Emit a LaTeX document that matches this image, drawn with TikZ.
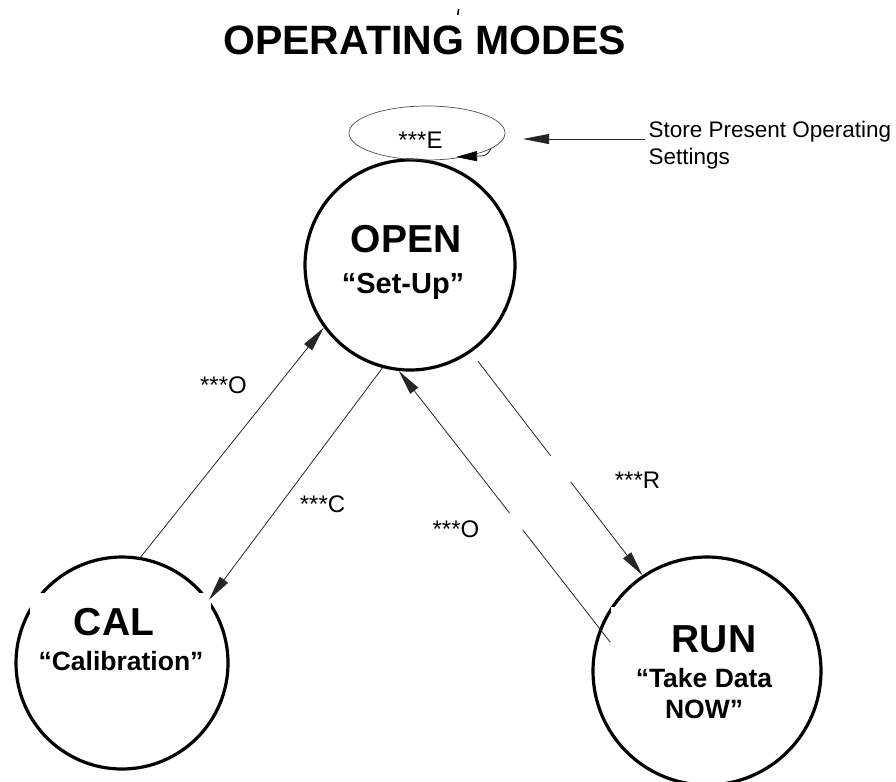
\documentclass[tikz,border=0pt]{standalone}
\usepackage{fontspec}
\setmainfont{Liberation Sans}
\usetikzlibrary{arrows.meta,calc,shapes.geometric}

\begin{document}
\begin{tikzpicture}[x=1pt,y=-1pt,
  state/.style={circle, draw=black, line width=3.2pt, inner sep=0pt},
  mask/.style={fill=white, inner sep=0pt, anchor=north west},
  conn/.style={draw=black!85, line width=0.8pt, -{Triangle[length=25pt,width=10pt]}},
  gap/.style={draw=white, line width=3.5pt},
  big/.style={font=\bfseries\fontsize{39}{40}\selectfont, anchor=base},
  sub/.style={font=\bfseries\fontsize{27}{30}\selectfont, anchor=base},
  lbl/.style={font=\fontsize{24}{26}\selectfont, anchor=base},
  note/.style={font=\fontsize{22.5}{26}\selectfont, anchor=base west}
]
\useasboundingbox (0,0) rectangle (896,781);

% title
\node[font=\bfseries\fontsize{41}{44}\selectfont, anchor=base] (title) at (424.5,55) {OPERATING MODES};
\draw[line width=1.6pt] (458.6,9) -- (457.8,15);

% mode circles
\node[state, minimum size=210pt] (open) at (410,265) {};
\node[state, minimum size=212pt] (cal)  at (122,663) {};
\node[state, minimum size=228pt] (run)  at (707,671) {};

% white text boxes over the circle outlines
\node[mask, minimum width=181pt, minimum height=95pt] (calbox) at (30,593) {};
\node[mask, minimum width=180pt, minimum height=120pt] (runbox) at (611,607) {};

% circle labels
\node[big] (opent) at (406,252) {OPEN};
\node[sub, font=\bfseries\fontsize{29}{32}\selectfont] (opens) at (403,293) {“Set-Up”};
\node[big] (calt) at (114,635) {CAL};
\node[sub, font=\bfseries\fontsize{26.5}{30}\selectfont] (cals) at (121,670) {“Calibration”};
\node[big] (runt) at (714,652) {RUN};
\node[sub, font=\bfseries\fontsize{26.5}{30}\selectfont] (runs1) at (704,687) {“Take Data};
\node[sub, font=\bfseries\fontsize{26.5}{30}\selectfont] (runs2) at (704,718) {NOW”};

% store settings ellipse with its return arrow
\node[ellipse, draw=black!70, line width=0.7pt, minimum width=156pt, minimum height=54pt, inner sep=0pt] (store) at (427,133) {};
\node[lbl] (storet) at (420.5,148) {***E};
\coordinate (ebend) at (481,156);
\coordinate (etip) at (456,157);
\draw[draw=black, line width=0.7pt, -{Triangle[length=21pt,width=10pt]}] (store.-14) to[out=-115, in=0] (ebend) -- (etip);

% note on the right
\node[note] (note1) at (645,137) {Store Present Operating};
\node[note] (note2) at (645,164) {Settings};
\coordinate (ntip) at (523,139);
\draw[conn, -{Triangle[length=26pt,width=10pt]}] ($(note1.base west)+(0,2)$) -- (ntip);

% transitions
\draw[conn] (cal.80.5) -- (open.216);
\draw[conn] (open.255) -- (cal.36.5);
\draw[conn] ($(run.center)+(163.4:101pt)$) -- coordinate[pos=0.414] (g3a) coordinate[pos=0.476] (g3b) (open.264.5);
\draw[conn, shorten <=11pt] (open.305) -- coordinate[pos=0.465] (g4a) coordinate[pos=0.581] (g4b) (run.124.7);
\draw[gap] (g3a) -- (g3b);
\draw[gap] (g4a) -- (g4b);

% transition labels
\node[lbl] (lo1) at (223.5,393) {***O};
\node[lbl] (lc)  at (322.5,512) {***C};
\node[lbl] (lo2) at (456,537) {***O};
\node[lbl] (lr)  at (637.5,488) {***R};
\end{tikzpicture}
\end{document}
